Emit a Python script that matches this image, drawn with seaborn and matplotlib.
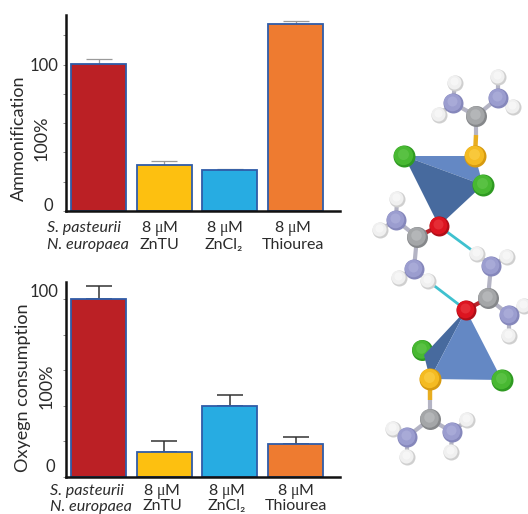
import matplotlib
matplotlib.use("Agg")
import matplotlib.pyplot as plt
import numpy as np
import pandas as pd
import seaborn as sns

# values
treatments = ["control", "ZnTU", "ZnCl2", "Thiourea"]
bar_colors = ["#bb2025", "#fdc010", "#27ace2", "#ee7b30"]
ammonification = [100.7, 31.5, 28, 128]
ammonification_err = [3.5, 2.5, 0.8, 1.8]
oxygen = [100, 14.2, 39.7, 18.4]
oxygen_err = [7.5, 5.8, 6.2, 4.1]
line1_labels = ["8 $\\mathrm{μ}$M", "8 $\\mathrm{μ}$M", "8 $\\mathrm{μ}$M"]
line2_labels = ["ZnTU", "ZnCl₂", "Thiourea"]

# molecule atoms, in picture pixels
cl_x = [404, 483, 502]
cl_y = [156, 185, 380]
cl_back_x = [422]
cl_back_y = [350]
s_x = [475, 430]
s_y = [156, 379]
o_x = [439, 466]
o_y = [226, 310]
c_x = [476, 417, 488, 430]
c_y = [116, 237, 298, 419]
n_x = [453, 498, 396, 414, 491, 509, 407, 452]
n_y = [103, 98, 220, 269, 266, 315, 437, 432]
h_x = [455, 439, 498, 513, 397, 380, 399, 428, 477, 507, 524, 509, 393, 407, 467, 451]
h_y = [83, 115, 77, 107, 199, 230, 278, 281, 254, 257, 306, 336, 429, 457, 420, 452]

sns.set_theme(style="white")
plt.rcParams["font.family"] = ["Lato", "DejaVu Sans"]
plt.rcParams["mathtext.fontset"] = "custom"
plt.rcParams["mathtext.rm"] = "Liberation Serif"
plt.rcParams["mathtext.default"] = "regular"

W, H = 528, 514
text_color = "#2b2b2b"
fig = plt.figure(figsize=(W / 100, H / 100), dpi=100)


def make_axes(left, right, top, bottom):
    return fig.add_axes([left / W, 1 - bottom / H, (right - left) / W, (bottom - top) / H])


def bar_panel(ax, values, errors, err_color, err_lw, ymax):
    df = pd.DataFrame({"treatment": treatments, "value": values})
    sns.barplot(data=df, x="treatment", y="value", hue="treatment", palette=bar_colors,
                legend=False, width=0.835, edgecolor="#2f5ca8", linewidth=1.3,
                saturation=1, ax=ax, zorder=2)
    ax.errorbar(range(4), values, yerr=[[0] * 4, errors], fmt="none", ecolor=err_color,
                elinewidth=err_lw, capsize=9.5, capthick=err_lw, zorder=1)
    ax.set_xlabel("")
    ax.set_ylabel("")
    ax.set_xticks([])
    ax.set_yticks([t for t in range(0, 121, 20) if t <= ymax])
    ax.set_yticklabels([])
    # ticks can stretch the limits, so set these last
    ax.set_xlim(-0.495, 3.676)
    ax.set_ylim(0, ymax)
    ax.tick_params(axis="y", left=True, length=2, width=0.6, color="#777777", pad=0)
    sns.despine(ax=ax)
    ax.spines["left"].set_linewidth(1.8)
    ax.spines["bottom"].set_linewidth(1.8)
    ax.spines["left"].set_color("#111111")
    ax.spines["bottom"].set_color("#111111")
    ax.patch.set_alpha(0)


def px_text(x, y, s, **kw):
    kw.setdefault("color", text_color)
    kw.setdefault("fontsize", 11.5)
    kw.setdefault("va", "center")
    fig.text(x / W, 1 - y / H, s, **kw)


ax1 = make_axes(66, 340, 15, 211)
bar_panel(ax1, ammonification, ammonification_err, "#9a9a9a", 0.9, 134)
ax2 = make_axes(66, 340, 282, 477)
bar_panel(ax2, oxygen, oxygen_err, "#333333", 1.1, 109.5)

# top panel text
px_text(58, 66, "100", ha="right", fontsize=12)
px_text(53, 206, "0", ha="right", fontsize=12)
px_text(19, 138, "Ammonification", rotation=90, ha="center", fontsize=13)
px_text(42, 138, "100%", rotation=90, ha="center", fontsize=13)
px_text(47, 232, "S. pasteurii", style="italic", fontsize=11.6, va="baseline")
px_text(47, 249, "N. europaea", style="italic", fontsize=11.6, va="baseline")
for x, a in zip([160, 225, 293], line1_labels):
    px_text(x, 232, a, ha="center", va="baseline")
for x, b in zip([159, 224, 293], line2_labels):
    px_text(x, 249, b, ha="center", va="baseline")

# bottom panel text
px_text(58, 292, "100", ha="right", fontsize=12)
px_text(55, 467, "0", ha="right", fontsize=12)
px_text(23, 388, "Oxyegn consumption", rotation=90, ha="center", fontsize=13)
px_text(47, 386, "100%", rotation=90, ha="center", fontsize=13)
px_text(50, 495, "S. pasteurii", style="italic", fontsize=11.6, va="baseline")
px_text(50, 511, "N. europaea", style="italic", fontsize=11.6, va="baseline")
for x, a, b in zip([162, 227, 296], line1_labels, line2_labels):
    px_text(x, 495, a, ha="center", va="baseline")
    px_text(x, 510.5, b, ha="center", va="baseline")

# molecule overlay, data coordinates are picture pixels
mol = fig.add_axes([0, 0, 1, 1], zorder=5)
mol.set_xlim(0, W)
mol.set_ylim(H, 0)
mol.axis("off")


def atoms(xs, ys, radius, dark, main, light, zorder):
    d = 2 * radius * 0.72
    xs = np.array(xs, dtype=float)
    ys = np.array(ys, dtype=float)
    sns.scatterplot(x=xs, y=ys, s=d ** 2, color=dark, linewidth=0, ax=mol, zorder=zorder, legend=False)
    sns.scatterplot(x=xs - 0.1 * radius, y=ys - 0.12 * radius, s=(0.88 * d) ** 2, color=main,
                    linewidth=0, ax=mol, zorder=zorder, legend=False)
    sns.scatterplot(x=xs - 0.1 * radius, y=ys - 0.2 * radius, s=(0.5 * d) ** 2, color=light,
                    linewidth=0, alpha=0.45, ax=mol, zorder=zorder, legend=False)


def bonds(pairs, color, lw, zorder=2):
    for (x0, y0), (x1, y1) in pairs:
        mol.plot([x0, x1], [y0, y1], color=color, lw=lw, zorder=zorder, solid_capstyle="butt")


atoms(cl_back_x, cl_back_y, 10.5, "#2f9a22", "#48b832", "#6fce58", 1)

light_blue = "#6488c4"
dark_blue = "#476a9e"
mol.fill([404, 475, 483], [156, 156, 185], color=light_blue, lw=0, zorder=2)
mol.fill([404, 483, 439], [156, 185, 226], color=dark_blue, lw=0, zorder=2)
mol.fill([466, 424, 430], [310, 355, 379], color=dark_blue, lw=0, zorder=2)
mol.fill([466, 430, 502], [310, 379, 380], color=light_blue, lw=0, zorder=2)

# covalent sticks
gray_bonds = [((476, 116), (453, 103)), ((476, 116), (498, 98)), ((417, 237), (396, 220)),
              ((417, 237), (414, 269)), ((488, 298), (491, 266)), ((488, 298), (509, 315)),
              ((430, 419), (407, 437)), ((430, 419), (452, 432)), ((476, 116), (476, 135)),
              ((430, 419), (430, 400)), ((453, 103), (455, 83)), ((453, 103), (439, 115)),
              ((498, 98), (498, 77)), ((498, 98), (513, 107)), ((396, 220), (397, 199)),
              ((396, 220), (380, 230)), ((414, 269), (399, 278)), ((414, 269), (428, 281)),
              ((491, 266), (477, 254)), ((491, 266), (507, 257)), ((509, 315), (524, 306)),
              ((509, 315), (509, 336)), ((407, 437), (393, 429)), ((407, 437), (407, 457)),
              ((452, 432), (467, 420)), ((452, 432), (451, 452))]
bonds(gray_bonds, "#b4b4c4", 3, zorder=2.5)
bonds([((476, 135), (475, 156)), ((430, 400), (430, 379))], "#e8ad20", 3.2, zorder=2.5)
bonds([((439, 226), (417, 237)), ((466, 310), (488, 298))], "#b8242c", 3, zorder=2.5)

# hydrogen bonds
bonds([((439, 226), (477, 254)), ((428, 281), (466, 310))], "#3fc1cf", 2, zorder=2.5)

atoms(h_x, h_y, 8, "#cfcfcf", "#f0f0f0", "#ffffff", 3)
atoms(n_x, n_y, 10, "#8587bb", "#9b9dcf", "#b9bbe2", 3)
atoms(c_x, c_y, 10.5, "#85878a", "#a4a6a8", "#c8cacc", 3)
atoms(s_x, s_y, 11, "#d69a10", "#f4bb22", "#ffd95a", 4)
atoms(o_x, o_y, 10, "#b00e18", "#dc1420", "#f04a50", 4)
atoms(cl_x, cl_y, 11, "#2f9a22", "#48b832", "#6fce58", 4)

fig.savefig("out.png", dpi=100)
